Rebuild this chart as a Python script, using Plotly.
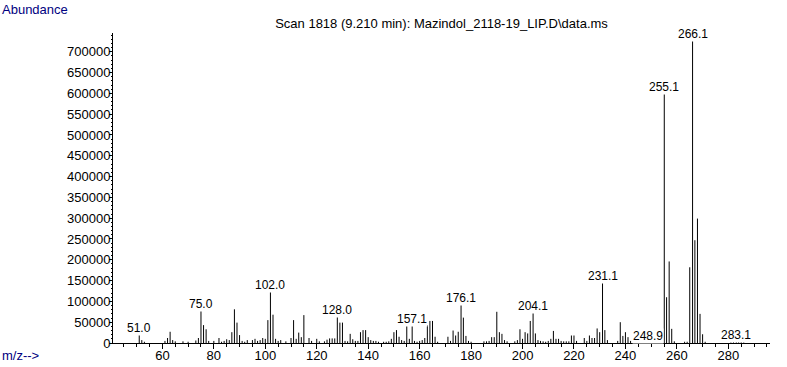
import plotly.graph_objects as go

# m/z values and abundances
mz = [51.0, 52, 53, 61, 62, 63, 64, 65, 68, 70, 73, 74, 75.0, 76, 77, 78, 80, 82, 83, 84,
      85, 86, 87, 88, 89, 90, 91, 92, 93, 95, 96, 97, 98, 99, 100, 101, 102.0, 103, 104, 105,
      106, 108, 110, 111, 112, 113, 114, 115, 117, 118, 120, 121, 123, 124, 125, 126, 127, 128.0, 129, 130,
      131, 132, 133, 134, 135, 136, 137, 138, 139, 140, 141, 142, 143, 144, 146, 147, 148, 149, 150, 151,
      152, 153, 154, 155, 156, 157.1, 158, 159, 160, 161, 162, 163, 164, 165, 166, 167, 171, 172, 173, 174,
      175, 176.1, 177, 178, 179, 180, 185, 186, 187, 188, 189, 190, 191, 192, 193, 194, 197, 198, 199, 200,
      201, 202, 203, 204.1, 205, 206, 207, 208, 209, 210, 211, 212, 213, 214, 215, 216, 217, 218, 219, 220,
      221, 224, 225, 226, 227, 228, 229, 230, 231.1, 232, 233, 237, 238, 239, 240, 241, 242, 248.9, 255.1, 256,
      257, 258, 259, 263, 264, 265, 266.1, 267, 268, 269, 270, 271, 281, 282, 283.1, 284, 285, 286]
abundance = [21000, 7000, 3000, 5000, 12000, 27000, 7000, 4000, 4000, 3000, 6000, 12000, 79000, 43000, 33000, 5000, 5000, 12000, 3000, 5000,
             9000, 7000, 26000, 81000, 49000, 19000, 5000, 3000, 7000, 7000, 10000, 5000, 7000, 12000, 10000, 55000, 124000, 68000, 10000, 5000,
             7000, 4000, 12000, 55000, 10000, 25000, 14000, 67000, 12000, 5000, 10000, 4000, 4000, 8000, 11000, 11000, 11000, 66000, 49000, 49000,
             5000, 4000, 22000, 9000, 5000, 5000, 26000, 31000, 31000, 14000, 7000, 5000, 5000, 3000, 3000, 3000, 4000, 10000, 26000, 31000,
             15000, 7000, 5000, 44000, 10000, 44000, 5000, 3000, 5000, 7000, 12000, 43000, 53000, 53000, 15000, 3000, 15000, 5000, 30000, 18000,
             27000, 94000, 61000, 17000, 5000, 3000, 4000, 4000, 5000, 14000, 14000, 75000, 26000, 22000, 7000, 4000, 4000, 7000, 33000, 10000,
             26000, 23000, 53000, 75000, 23000, 7000, 5000, 4000, 3000, 5000, 10000, 29000, 10000, 10000, 5000, 4000, 4000, 4000, 18000, 18000,
             5000, 12000, 5000, 18000, 12000, 12000, 35000, 26000, 147000, 31000, 7000, 5000, 50000, 17000, 26000, 14000, 5000, 3000, 600000, 110000,
             196000, 34000, 4000, 3000, 3000, 182000, 728000, 247000, 299000, 70000, 21000, 3000, 2000, 3000, 6000, 4000, 4000, 2000]

labeled_mz = [51.0, 75.0, 102.0, 128.0, 157.1, 176.1, 204.1, 231.1, 248.9, 255.1, 266.1, 283.1]

x_range = [40.8, 296.2]
y_range = [0, 745000]

title_text = "Scan 1818 (9.210 min): Mazindol_2118-19_LIP.D\\data.ms"

# stems
xs, ys = [], []
for m, a in zip(mz, abundance):
    xs += [m, m, None]
    ys += [0, a, None]

fig = go.Figure()
fig.add_trace(go.Scatter(x=xs, y=ys, mode="lines", line=dict(color="black", width=1),
                         hoverinfo="skip", showlegend=False))

font_family = "Liberation Sans, Arial, sans-serif"

lookup = dict(zip(mz, abundance))
for m in labeled_mz:
    fig.add_annotation(x=m, y=lookup[m], xref="x", yref="y", text=f"{m:.1f}",
                       showarrow=False, xanchor="center", yanchor="bottom", yshift=-2,
                       bgcolor="white", borderpad=0,
                       font=dict(family=font_family, size=12, color="black"))

fig.add_annotation(x=0, y=1, xref="paper", yref="paper", xanchor="left", yanchor="top",
                   text="Abundance", showarrow=False,
                   font=dict(family=font_family, size=13, color="#000080"),
                   xshift=-113, yshift=33)
fig.add_annotation(x=0, y=0, xref="paper", yref="paper", xanchor="left", yanchor="middle",
                   text="m/z-->", showarrow=False,
                   font=dict(family=font_family, size=13, color="#000080"),
                   xshift=-113, yshift=-12)

fig.update_layout(
    width=787, height=367,
    margin=dict(l=113, r=17, t=33, b=24, autoexpand=False),
    paper_bgcolor="white", plot_bgcolor="white",
    font=dict(family=font_family, size=13, color="black"),
    title=dict(text=title_text, x=0.5, xref="paper", xanchor="center", y=1, yref="container",
               yanchor="top", pad=dict(t=19), font=dict(family=font_family, size=13, color="black")),
    showlegend=False,
)

fig.update_xaxes(range=x_range, showgrid=False, zeroline=False, showline=True, linecolor="black",
                 linewidth=1, ticks="outside", tickcolor="black", ticklen=5, tickwidth=1,
                 dtick=20, tick0=0, tickfont=dict(size=13), automargin=False, ticklabelstandoff=-5,
                 minor=dict(dtick=5, tick0=0, ticks="outside", ticklen=3, tickcolor="black", tickwidth=1))
fig.update_yaxes(range=y_range, showgrid=False, zeroline=False, showline=True, linecolor="black",
                 linewidth=1, ticks="outside", tickcolor="black", ticklen=3, tickwidth=1,
                 dtick=50000, tick0=0, tickformat="d", tickfont=dict(size=13), automargin=False,
                 ticklabelstandoff=-4,
                 minor=dict(dtick=10000, tick0=0, ticks="outside", ticklen=1, tickcolor="black", tickwidth=1))

fig.write_html("out.html", config={"displayModeBar": False},
               post_script="document.body.style.margin='0px';")
